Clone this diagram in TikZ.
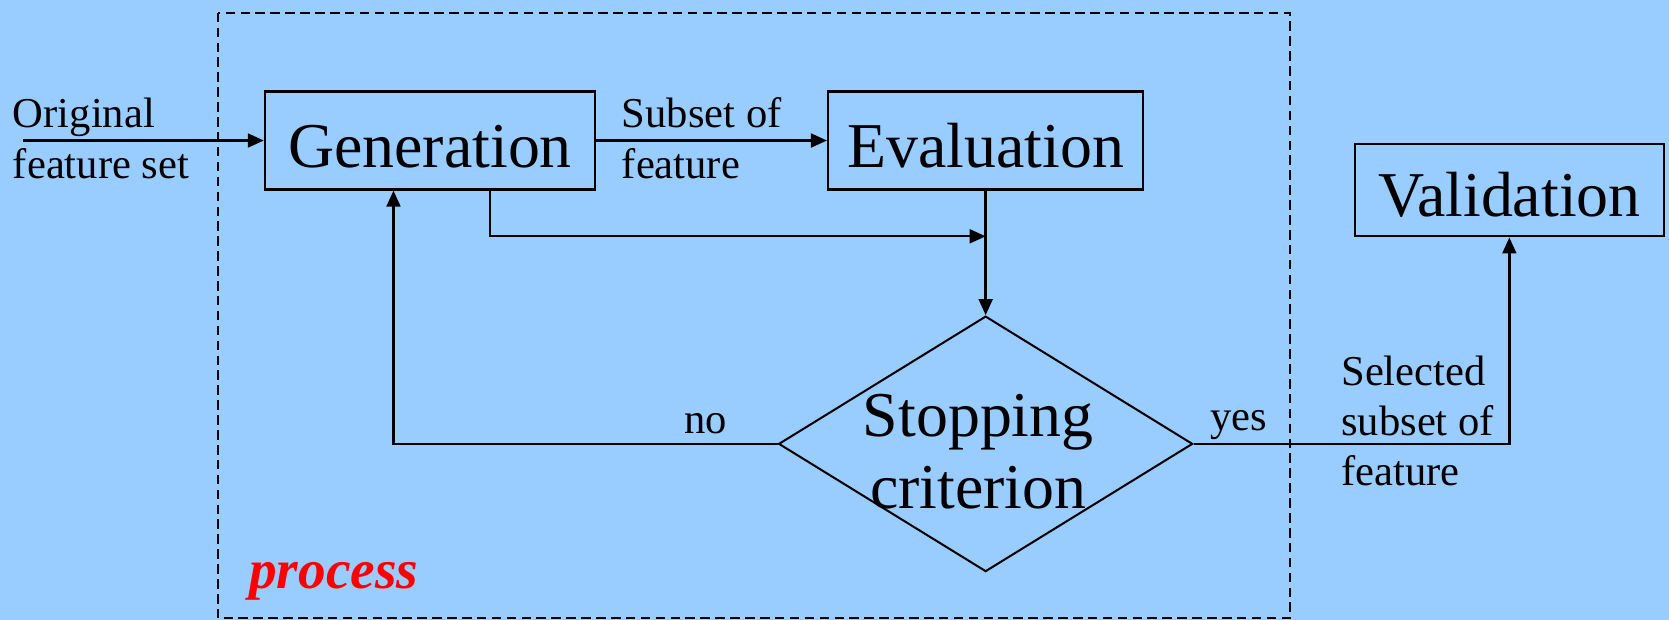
\documentclass[tikz,border=0pt]{standalone}
\usepackage{fontspec}
\setmainfont{Liberation Serif}
\usetikzlibrary{shapes.geometric,arrows.meta,calc}
\definecolor{bgblue}{HTML}{99CCFF}
\definecolor{procred}{HTML}{FF0000}
\tikzset{
  boxnode/.style={draw, line width=2.2pt, inner sep=0pt, font=\fontsize{60}{68}\selectfont, text height=50pt, text depth=0pt},
  smalltext/.style={font=\fontsize{40}{48}\selectfont, inner sep=0pt, anchor=base west},
  bigtext/.style={font=\fontsize{60}{68}\selectfont, inner sep=0pt, anchor=base},
  arr/.style={line width=2.2pt, -{Triangle[length=15pt,width=13pt]}},
}
\begin{document}
\begin{tikzpicture}[x=1pt,y=-1pt]
\fill[bgblue] (0,0) rectangle (1568,582);
\useasboundingbox (0,0) rectangle (1568,582);
% dashed process frame
\draw[line width=1.9pt, dash pattern=on 9pt off 5pt] (205,12) rectangle (1212,581);
\node[font=\fontsize{52}{58}\selectfont\bfseries\itshape, text=procred, inner sep=0pt, anchor=base west] (proc) at (234,553) {process};
% boxes
\node[boxnode, minimum width=310pt, minimum height=92pt] (gen) at (404,132) {Generation};
\node[boxnode, minimum width=296pt, minimum height=92pt] (eval) at (926,132) {Evaluation};
\node[boxnode, minimum width=290pt, minimum height=87pt] (val) at (1418,178.5) {Validation};
\node[diamond, draw, line width=1.9pt, minimum width=389pt, minimum height=240pt, inner sep=0pt] (stop) at (926,417) {};
\node[bigtext] (stop1) at (919,410) {Stopping};
\node[bigtext] (stop2) at (919,478) {criterion};
% labels
\node[smalltext] (orig1) at (12,120) {Original};
\node[smalltext] (orig2) at (12,168) {feature set};
\node[smalltext] (sub1) at (584,120) {Subset of};
\node[smalltext] (sub2) at (584,168) {feature};
\node[smalltext] (no) at (643,407) {no};
\node[smalltext] (yes) at (1137,404) {yes};
\node[smalltext] (sel1) at (1260,362) {Selected};
\node[smalltext] (sel2) at (1260,409) {subset of};
\node[smalltext] (sel3) at (1260,456) {feature};
% connectors
\coordinate (instart) at (22,132);
\coordinate (join) at (926,222);
\draw[arr] (instart) -- (gen.west);
\draw[arr] (gen.east) -- (eval.west);
\draw[arr] ($(gen.south west)!0.68!(gen.south east)$) |- (join);
\draw[arr] (eval.south) -- (stop.north);
\draw[arr] (stop.west) -| ($(gen.south west)!0.39!(gen.south east)$);
\draw[arr] (stop.east) -| (val.south);
\end{tikzpicture}
\end{document}
